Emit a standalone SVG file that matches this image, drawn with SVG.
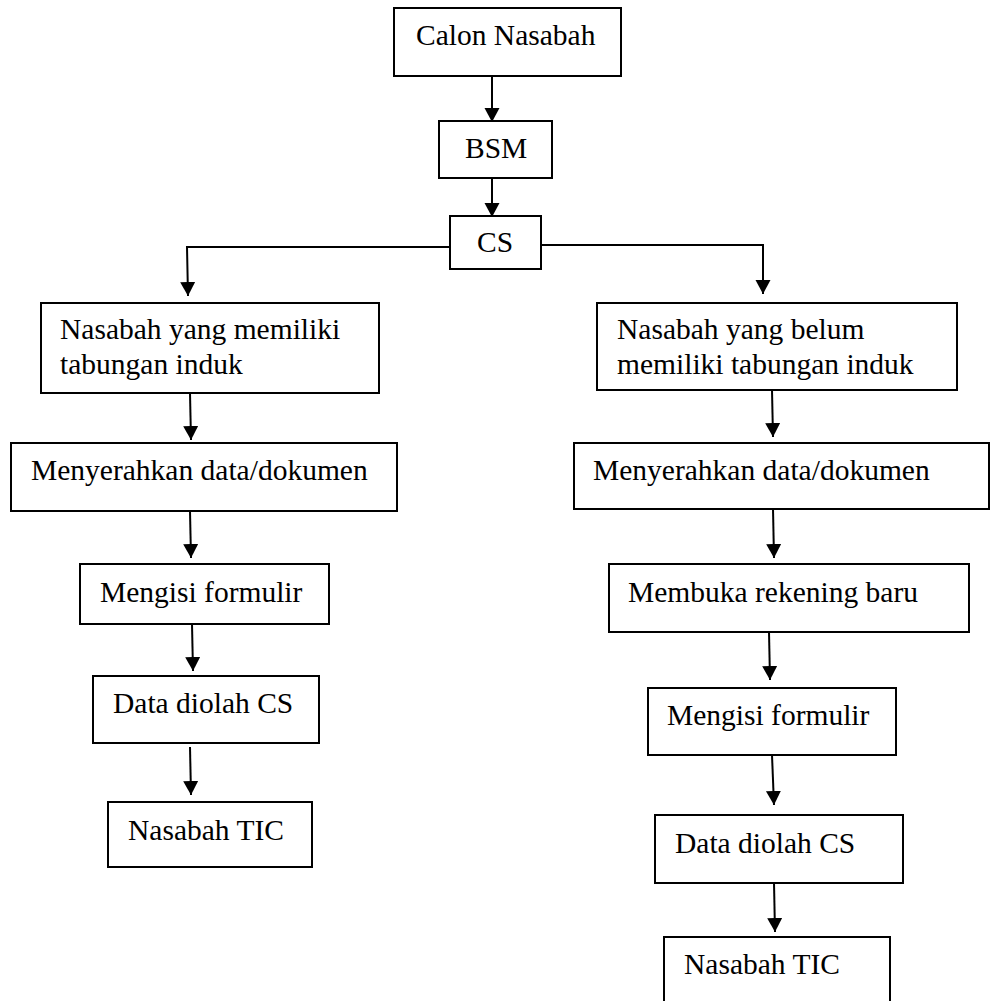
<svg xmlns="http://www.w3.org/2000/svg" width="990" height="1001" viewBox="0 0 990 1001">
<style>
.box{fill:#fff;stroke:#000;stroke-width:2}
.t{font-family:'Liberation Serif','DejaVu Serif',serif;font-size:29.5px;fill:#000}
.c{fill:none;stroke:#000;stroke-width:2}
</style>
<defs>
<marker id="ah" markerUnits="userSpaceOnUse" markerWidth="15" markerHeight="16" refX="14" refY="7.5" orient="auto">
<path d="M0,0 L14,7.5 L0,15 z" fill="#000"/>
</marker>
</defs>
<rect width="990" height="1001" fill="#fff"/>
<g id="connectors">
<line class="c" x1="492" y1="76" x2="492" y2="122" marker-end="url(#ah)"/>
<line class="c" x1="492" y1="178" x2="492" y2="217" marker-end="url(#ah)"/>
<polyline class="c" points="450,247 187,247 188,296" marker-end="url(#ah)"/>
<polyline class="c" points="541,245 763,245 763,294" marker-end="url(#ah)"/>
<line class="c" x1="190" y1="393" x2="191" y2="440" marker-end="url(#ah)"/>
<line class="c" x1="190" y1="511" x2="191" y2="558" marker-end="url(#ah)"/>
<line class="c" x1="192" y1="624" x2="193" y2="671" marker-end="url(#ah)"/>
<line class="c" x1="190" y1="747" x2="191" y2="795" marker-end="url(#ah)"/>
<line class="c" x1="772" y1="390" x2="773" y2="437" marker-end="url(#ah)"/>
<line class="c" x1="773" y1="509" x2="774" y2="558" marker-end="url(#ah)"/>
<line class="c" x1="769" y1="632" x2="770" y2="680" marker-end="url(#ah)"/>
<line class="c" x1="772" y1="755" x2="774" y2="805" marker-end="url(#ah)"/>
<line class="c" x1="774" y1="883" x2="775" y2="932" marker-end="url(#ah)"/>
</g>
<g id="calon"><rect class="box" x="394" y="8" width="227" height="68"/><text class="t" x="416" y="45">Calon Nasabah</text></g>
<g id="bsm"><rect class="box" x="439" y="121" width="113" height="57"/><text class="t" x="465" y="158">BSM</text></g>
<g id="cs"><rect class="box" x="450" y="216" width="91" height="53"/><text class="t" x="477" y="252">CS</text></g>
<g id="l1"><rect class="box" x="41" y="303" width="338" height="90"/><text class="t" x="60" y="339">Nasabah yang memiliki</text><text class="t" x="60" y="374">tabungan induk</text></g>
<g id="l2"><rect class="box" x="11" y="443" width="386" height="68"/><text class="t" x="31" y="480">Menyerahkan data/dokumen</text></g>
<g id="l3"><rect class="box" x="80" y="564" width="249" height="60"/><text class="t" x="100" y="602">Mengisi formulir</text></g>
<g id="l4"><rect class="box" x="93" y="676" width="226" height="67"/><text class="t" x="113" y="713">Data diolah CS</text></g>
<g id="l5"><rect class="box" x="108" y="802" width="204" height="65"/><text class="t" x="128" y="840">Nasabah TIC</text></g>
<g id="r1"><rect class="box" x="597" y="303" width="360" height="87"/><text class="t" x="617" y="339">Nasabah yang belum</text><text class="t" x="617" y="374">memiliki tabungan induk</text></g>
<g id="r2"><rect class="box" x="574" y="443" width="415" height="66"/><text class="t" x="593" y="480">Menyerahkan data/dokumen</text></g>
<g id="r3"><rect class="box" x="609" y="564" width="360" height="68"/><text class="t" x="628" y="602">Membuka rekening baru</text></g>
<g id="r4"><rect class="box" x="648" y="688" width="248" height="67"/><text class="t" x="667" y="725">Mengisi formulir</text></g>
<g id="r5"><rect class="box" x="655" y="815" width="248" height="68"/><text class="t" x="675" y="853">Data diolah CS</text></g>
<g id="r6"><rect class="box" x="664" y="937" width="226" height="70"/><text class="t" x="684" y="974">Nasabah TIC</text></g>
</svg>
